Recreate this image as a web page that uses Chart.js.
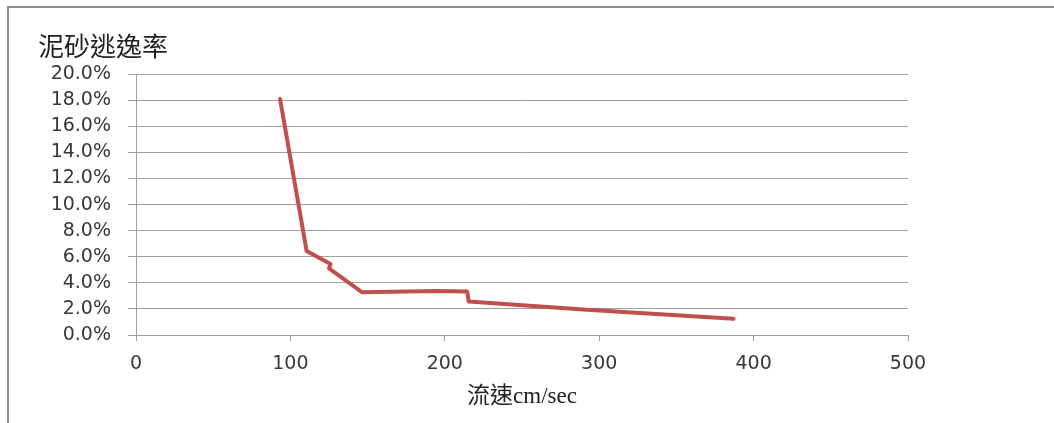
<!DOCTYPE html>
<html>
<head>
<meta charset="utf-8">
<script src="https://cdn.jsdelivr.net/npm/chart.js@4/dist/chart.umd.min.js"></script>
<style>
    html, body { margin: 0; padding: 0; background: #fff; }
    #frame {
        position: absolute; left: 7px; top: 6px; width: 1047px; height: 417px;
        border-top: 2px solid #8c8c8c; border-left: 2px solid #8c8c8c;
        box-sizing: border-box;
    }
    #wrap { position: absolute; left: 0; top: 0; width: 1054px; height: 423px; }
</style>
</head>
<body>
<div id="frame"></div>
<div id="wrap"><canvas id="escapeChart"></canvas></div>
<script>
// 数据（流速 cm/sec，泥砂逃逸率 %）
const velocity = [93.3, 110.5, 126, 125, 146.5, 195, 214.5, 215.5, 292, 387];
const escapeRate = [18.1, 6.45, 5.45, 5.1, 3.27, 3.38, 3.33, 2.57, 1.93, 1.24];

// 坐标轴刻度
const xTicks = [0, 100, 200, 300, 400, 500];
const yTickStep = 2;
const yMax = 20;

const gridColor = '#9f9f9f';
const textColor = '#383838';

document.addEventListener('DOMContentLoaded', function() {
    const points = velocity.map((v, i) => ({ x: v, y: escapeRate[i] }));
    const ctx = document.getElementById('escapeChart').getContext('2d');

    new Chart(ctx, {
        type: 'scatter',
        data: {
            datasets: [{
                data: points,
                showLine: true,
                borderColor: '#c0504d',
                backgroundColor: '#c0504d',
                borderWidth: 4,
                pointRadius: 0,
                tension: 0,
                borderJoinStyle: 'round',
                borderCapStyle: 'round'
            }]
        },
        options: {
            responsive: true,
            maintainAspectRatio: false,
            animation: false,
            layout: {
                padding: { left: 38, right: 146, top: 0, bottom: 0 }
            },
            plugins: {
                legend: { display: false },
                tooltip: { enabled: false },
                title: {
                    display: true,
                    text: '泥砂逃逸率',
                    align: 'start',
                    color: '#222',
                    font: { family: '"Noto Sans CJK TC", "Noto Sans CJK SC"', size: 26, weight: 'normal', lineHeight: 1.2 },
                    padding: { top: 31, bottom: 12 }
                }
            },
            scales: {
                x: {
                    type: 'linear',
                    min: xTicks[0],
                    max: xTicks[xTicks.length - 1],
                    afterBuildTicks: function(scale) {
                        scale.ticks = xTicks.map(v => ({ value: v }));
                    },
                    afterFit: function(scale) {
                        scale.height = 88;
                    },
                    grid: {
                        drawOnChartArea: false,
                        drawTicks: true,
                        tickLength: 6,
                        color: gridColor
                    },
                    border: { display: true, color: gridColor },
                    ticks: {
                        color: textColor,
                        padding: 12,
                        font: { family: '"DejaVu Sans"', size: 19 },
                        maxRotation: 0
                    },
                    title: {
                        display: true,
                        text: '流速cm/sec',
                        color: '#222',
                        font: { family: '"Liberation Serif", "Noto Sans CJK TC"', size: 23, lineHeight: 1.2 },
                        padding: { top: 0, bottom: 12 }
                    }
                },
                y: {
                    min: 0,
                    max: yMax,
                    afterFit: function(scale) {
                        scale.width = 98;
                    },
                    grid: {
                        color: gridColor,
                        tickLength: 8
                    },
                    border: { display: true, color: gridColor },
                    ticks: {
                        stepSize: yTickStep,
                        color: textColor,
                        padding: 17,
                        font: { family: '"DejaVu Sans"', size: 19 },
                        callback: function(value) {
                            return value.toFixed(1) + '%';
                        }
                    }
                }
            }
        }
    });
});
</script>
</body>
</html>
